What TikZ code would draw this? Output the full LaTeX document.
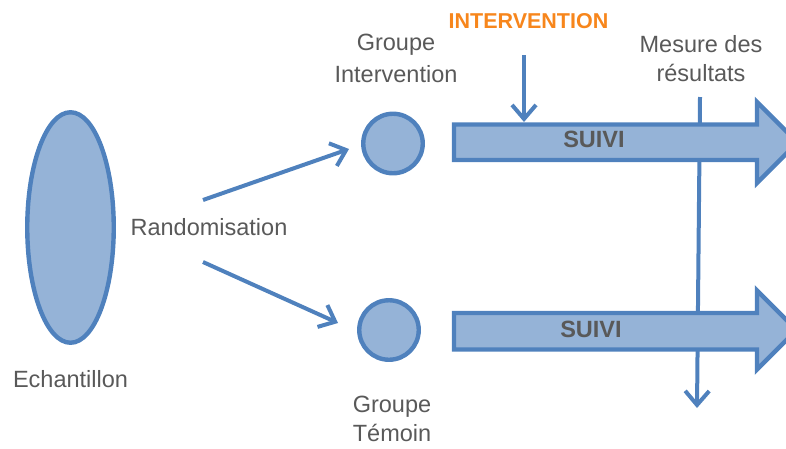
\documentclass[tikz,border=0pt]{standalone}
\usepackage{fontspec}
\setmainfont{Liberation Sans}
\usetikzlibrary{arrows.meta,shapes.geometric}
\definecolor{bfill}{HTML}{95B3D7}
\definecolor{bline}{HTML}{4F81BD}
\definecolor{tgrey}{HTML}{595959}
\definecolor{torange}{HTML}{F7861C}
\tikzset{
  lbl/.style={text=tgrey,font=\fontsize{23.5}{30}\selectfont,align=center,inner sep=0pt},
  boldlbl/.style={text=tgrey,font=\fontsize{23.5}{26}\selectfont\bfseries,inner sep=0pt},
  shapeln/.style={draw=bline,fill=bfill,line width=4.4pt},
  conn/.style={draw=bline,line width=4pt,-{Straight Barb[length=14pt,width=24pt,line width=4pt]}},
}
\begin{document}
\begin{tikzpicture}[x=1pt,y=-1pt]
\useasboundingbox (0,0) rectangle (786,448);
\clip (0,0) rectangle (786,448);
% ellipse
\node[shapeln,ellipse,minimum width=86.5pt,minimum height=230.5pt,inner sep=0pt] (ech) at (70.5,227.5) {};
\node[lbl] (echl) at (70.5,379.5) {Echantillon};
\node[lbl] (rand) at (209,227) {Randomisation};
% circles
\node[shapeln,circle,minimum size=59.5pt,inner sep=0pt] (gi) at (393,143.5) {};
\node[shapeln,circle,minimum size=59.5pt,inner sep=0pt] (gt) at (389,330) {};
\node[lbl,font=\fontsize{23.5}{32}\selectfont] (gil) at (396,58) {Groupe\\Intervention};
\node[lbl,font=\fontsize{23.5}{29}\selectfont] (gtl) at (392,419) {Groupe\\Témoin};
% randomisation arrows
\coordinate (r1s) at (203,200);
\coordinate (r1e) at (349,149);
\coordinate (r2s) at (203,262);
\coordinate (r2e) at (338,323);
\draw[conn] (r1s) -- (r1e);
\draw[conn] (r2s) -- (r2e);
% measurement line (behind arrows)
\coordinate (ms) at (700,97);
\coordinate (me) at (697,408);
\draw[conn] (ms) -- (me);
% big arrows
\path[shapeln] (454,124.5) -- (757,124.5) -- (757,102) -- (797.5,142.5) -- (757,183) -- (757,160) -- (454,160) -- cycle;
\path[shapeln] (454,313) -- (757,313) -- (757,290.5) -- (796.5,330) -- (757,369.5) -- (757,349.5) -- (454,349.5) -- cycle;
\node[boldlbl] (s1) at (594,139) {SUIVI};
\node[boldlbl] (s2) at (591,329) {SUIVI};
% intervention
\node[text=torange,font=\fontsize{21.5}{26}\selectfont\bfseries,inner sep=0pt] (int) at (528.5,21.5) {INTERVENTION};
\coordinate (is) at (524,55);
\coordinate (ie) at (524,122);
\draw[conn] (is) -- (ie);
\node[lbl,font=\fontsize{23.5}{29}\selectfont] (mes) at (701,59) {Mesure des\\résultats};
\end{tikzpicture}
\end{document}
